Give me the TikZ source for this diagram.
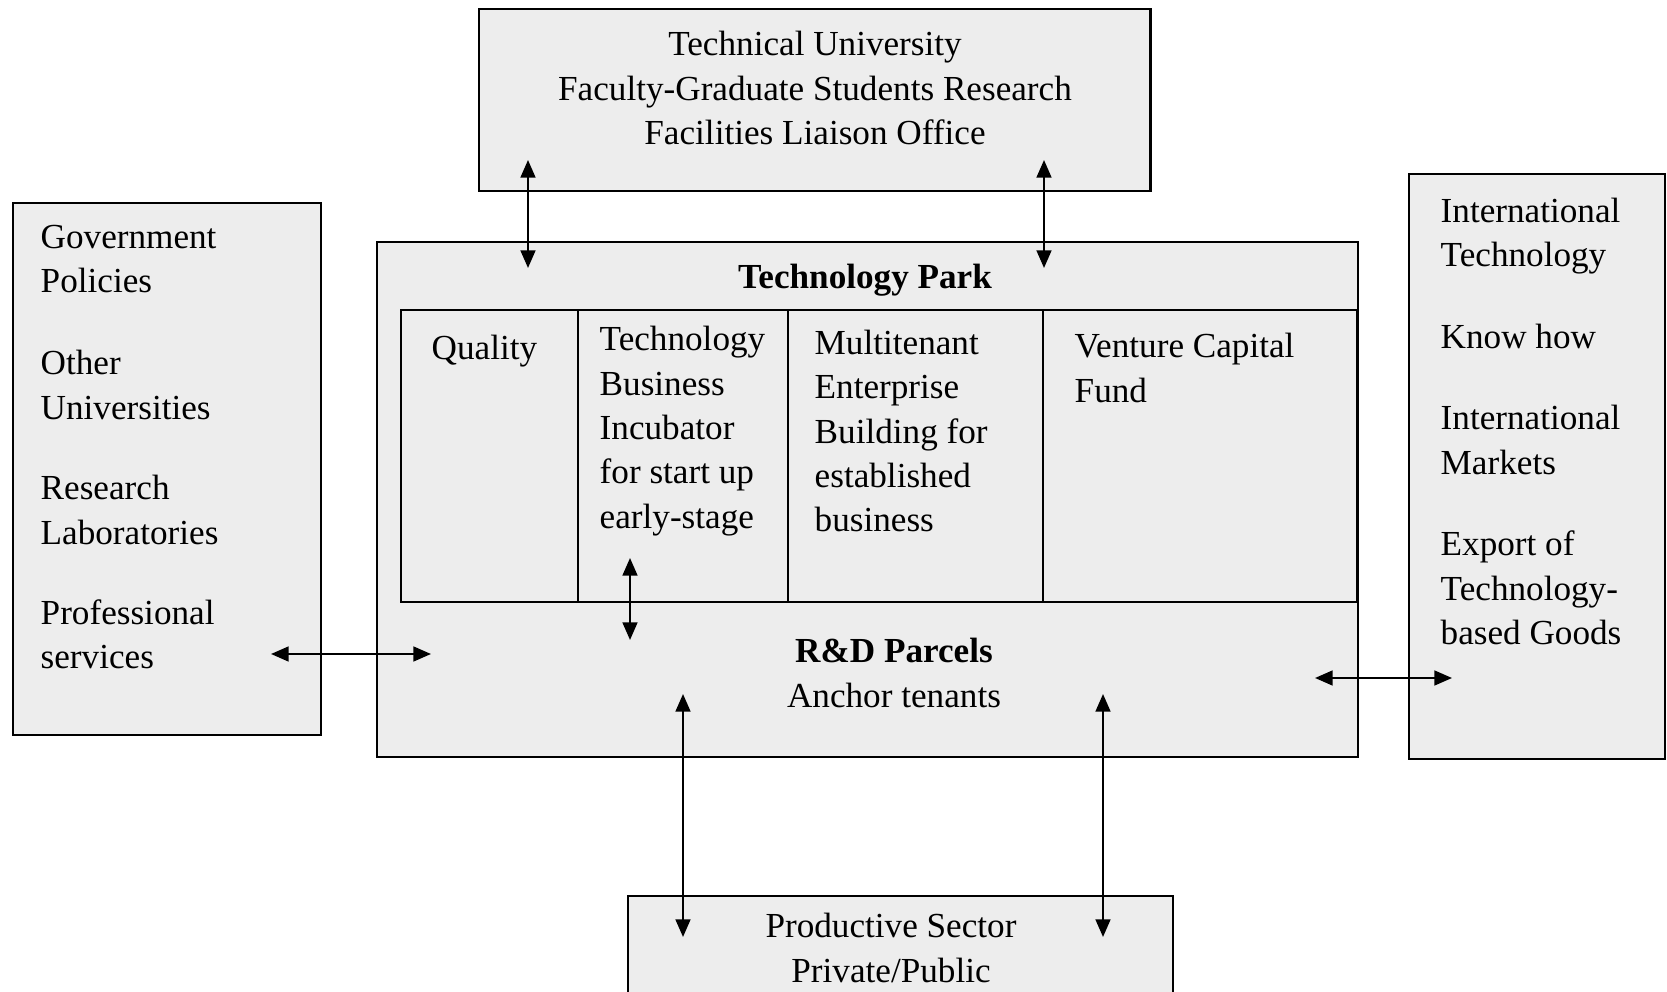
\documentclass[tikz,border=0pt]{standalone}
\usepackage{fontspec}
\setmainfont{Liberation Serif}
\usetikzlibrary{arrows.meta,positioning}
\definecolor{boxgray}{RGB}{237,237,237}
\tikzstyle{box} = [draw=black, line width=0.6pt, fill=boxgray, anchor=north west, inner sep=0pt]
\tikzstyle{txt} = [inner sep=0pt, align=left, anchor=west, font=\fontsize{10}{12.6}\selectfont]
\tikzstyle{ctxt} = [inner sep=0pt, align=center, font=\fontsize{10}{12.6}\selectfont]
\tikzstyle{dblarrow} = [line width=0.6pt, {Triangle[length=5pt,width=4.2pt]}-{Triangle[length=5pt,width=4.2pt]}]

\begin{document}
\begin{tikzpicture}[x=0.01cm, y=-0.01cm]
\useasboundingbox (0,0) rectangle (1667,992);
% boxes
\node[box, minimum width=6.71cm, minimum height=1.82cm] (tu) at (478,8) {};
\node[box, minimum width=9.80cm, minimum height=5.15cm] (park) at (376,241) {};
\node[box, minimum width=3.08cm, minimum height=5.32cm] (left) at (12,202) {};
\node[box, minimum width=2.56cm, minimum height=5.85cm] (right) at (1408,173) {};
\node[box, minimum width=5.45cm, minimum height=1.30cm] (prod) at (627,895) {};
% columns of the park
\node[box, minimum width=1.77cm, minimum height=2.92cm] (cq) at (400,309) {};
\node[box, minimum width=2.10cm, minimum height=2.92cm] (ci) at (577,309) {};
\node[box, minimum width=2.55cm, minimum height=2.92cm] (cm) at (787,309) {};
\node[box, minimum width=3.14cm, minimum height=2.92cm] (cv) at (1042,309) {};
% texts
\node[ctxt] (tut) at (815,88) {Technical University\\Faculty-Graduate Students Research\\Facilities Liaison Office};
\node[ctxt] (parkt) at (865,280) {\textbf{Technology Park}};
\node[txt] (qual) at (431,351) {Quality};
\node[txt] (incub) at (599,431) {Technology\\Business\\Incubator\\for start up\\early-stage};
\node[txt] (multi) at (814,431) {Multitenant\\Enterprise\\Building for\\established\\business};
\node[txt] (vent) at (1074,368) {Venture Capital\\Fund};
\node[ctxt] (rd) at (894,673) {\textbf{R\&D Parcels}\\Anchor tenants};
\node[ctxt] (prodt) at (891,948) {Productive Sector\\Private/Public};
\node[txt] (gov) at (40,259) {Government\\Policies};
\node[txt] (univ) at (40,385) {Other\\Universities};
\node[txt] (labs) at (40,510) {Research\\Laboratories};
\node[txt] (prof) at (40,634) {Professional\\services};
\node[txt] (itech) at (1440,236) {International\\Technology};
\node[txt] (know) at (1440,336) {Know how};
\node[txt] (imark) at (1440,440) {International\\Markets};
\node[txt] (export) at (1440,588) {Export of\\Technology-\\based Goods};
% arrow ends
\coordinate (tuA) at (528,160);
\coordinate (parkA) at (528,268);
\coordinate (tuB) at (1044,160);
\coordinate (parkB) at (1044,268);
\coordinate (incA) at (630,558);
\coordinate (rdA) at (630,640);
\coordinate (leftA) at (271,654);
\coordinate (parkL) at (431,654);
\coordinate (parkR) at (1315,678);
\coordinate (rightA) at (1452,678);
\coordinate (rdB) at (683,694);
\coordinate (prodA) at (683,937);
\coordinate (rdC) at (1103,694);
\coordinate (prodB) at (1103,937);
% connectors
\draw[dblarrow] (tuA)--(parkA);
\draw[dblarrow] (tuB)--(parkB);
\draw[dblarrow] (incA)--(rdA);
\draw[dblarrow] (leftA)--(parkL);
\draw[dblarrow] (parkR)--(rightA);
\draw[dblarrow] (rdB)--(prodA);
\draw[dblarrow] (rdC)--(prodB);
\end{tikzpicture}
\end{document}
